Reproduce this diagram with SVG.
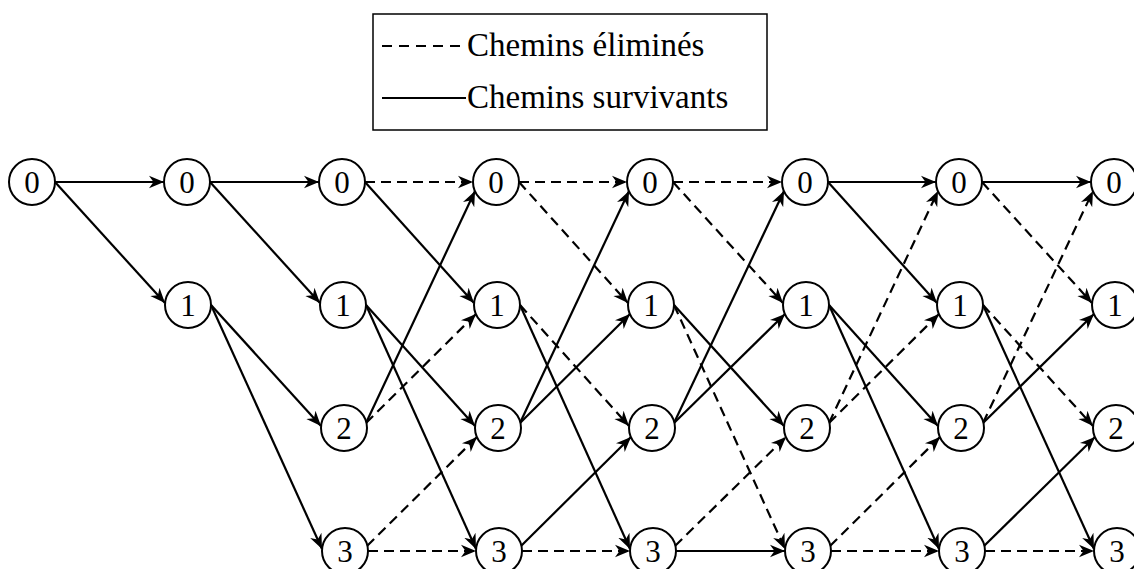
<svg xmlns="http://www.w3.org/2000/svg" width="1134" height="569" viewBox="0 0 1134 569">
  <style>
    .node circle { fill: #fff; stroke: #000; stroke-width: 2; }
    .node text { font-family: "Liberation Serif", "Times New Roman", serif; font-size: 31px; text-anchor: middle; fill: #000; }
    .edge { fill: none; stroke: #000; stroke-width: 2.2; marker-end: url(#arr); }
    .dash { stroke-dasharray: 10 6; }
    .legend-text { font-family: "Liberation Serif", "Times New Roman", serif; font-size: 33px; fill: #000; }
  </style>
  <defs>
    <marker id="arr" viewBox="0 0 16 14" markerWidth="16" markerHeight="14" refX="15" refY="7" orient="auto" markerUnits="userSpaceOnUse">
      <path d="M0,0.8 L15,7 L0,13.2 L4.5,7 Z" fill="#000"/>
    </marker>
  </defs>
  <rect width="1134" height="569" fill="#fff"/>

  <!-- legend -->
  <g id="legend">
    <rect x="373" y="14" width="394" height="116" fill="#fff" stroke="#000" stroke-width="1.5"/>
    <line x1="382" y1="46" x2="466" y2="46" stroke="#000" stroke-width="2" stroke-dasharray="10 7"/>
    <text class="legend-text" x="467" y="56">Chemins éliminés</text>
    <line x1="382" y1="98" x2="466" y2="98" stroke="#000" stroke-width="2"/>
    <text class="legend-text" x="467" y="108">Chemins survivants</text>
  </g>

  <!-- trellis transitions -->
  <g id="connectors">
    <!-- stage 0 -> 1 -->
    <path class="edge" d="M55 182 L164 182"/>
    <path class="edge" d="M55 182 L165 303"/>
    <!-- stage 1 -> 2 -->
    <path class="edge" d="M210 182 L319 182"/>
    <path class="edge" d="M210 182 L320 303"/>
    <path class="edge" d="M211 305 L321 426"/>
    <path class="edge" d="M211 305 L322 549"/>
    <!-- stage 2 -> 3 -->
    <path class="edge dash" d="M365 182 L473 182"/>
    <path class="edge" d="M365 182 L474 303"/>
    <path class="edge" d="M366 305 L475 426"/>
    <path class="edge" d="M366 305 L476 549"/>
    <path class="edge" d="M366 423 L475 191"/>
    <path class="edge dash" d="M366 423 L476 314"/>
    <path class="edge dash" d="M367 546 L477 437"/>
    <path class="edge dash" d="M368 551 L476 551"/>
    <!-- stage 3 -> 4 -->
    <path class="edge dash" d="M519 182 L627 182"/>
    <path class="edge dash" d="M519 182 L628 303"/>
    <path class="edge dash" d="M520 305 L629 426"/>
    <path class="edge" d="M520 305 L630 549"/>
    <path class="edge" d="M520 423 L629 191"/>
    <path class="edge" d="M520 423 L630 314"/>
    <path class="edge" d="M521 546 L631 437"/>
    <path class="edge dash" d="M522 551 L630 551"/>
    <!-- stage 4 -> 5 -->
    <path class="edge dash" d="M673 182 L782 182"/>
    <path class="edge dash" d="M673 182 L783 303"/>
    <path class="edge" d="M674 305 L784 426"/>
    <path class="edge dash" d="M674 305 L785 549"/>
    <path class="edge" d="M674 423 L784 191"/>
    <path class="edge" d="M674 423 L785 314"/>
    <path class="edge dash" d="M675 546 L786 437"/>
    <path class="edge" d="M676 551 L785 551"/>
    <!-- stage 5 -> 6 -->
    <path class="edge" d="M828 182 L936 182"/>
    <path class="edge" d="M828 182 L937 303"/>
    <path class="edge" d="M829 305 L938 426"/>
    <path class="edge" d="M829 305 L939 549"/>
    <path class="edge dash" d="M829 423 L938 191"/>
    <path class="edge dash" d="M829 423 L939 314"/>
    <path class="edge dash" d="M830 546 L940 437"/>
    <path class="edge dash" d="M831 551 L939 551"/>
    <!-- stage 6 -> 7 -->
    <path class="edge" d="M982 182 L1091 182"/>
    <path class="edge dash" d="M982 182 L1092 303"/>
    <path class="edge dash" d="M983 305 L1093 426"/>
    <path class="edge" d="M983 305 L1094 549"/>
    <path class="edge dash" d="M983 423 L1093 191"/>
    <path class="edge" d="M983 423 L1094 314"/>
    <path class="edge" d="M984 546 L1095 437"/>
    <path class="edge dash" d="M985 551 L1094 551"/>
  </g>

  <!-- states -->
  <g id="n0-0" class="node"><circle cx="32" cy="182" r="23"/><text x="32" y="193">0</text></g>

  <g id="n1-0" class="node"><circle cx="187" cy="182" r="23"/><text x="187" y="193">0</text></g>
  <g id="n1-1" class="node"><circle cx="188" cy="305" r="23"/><text x="188" y="316">1</text></g>

  <g id="n2-0" class="node"><circle cx="342" cy="182" r="23"/><text x="342" y="193">0</text></g>
  <g id="n2-1" class="node"><circle cx="343" cy="305" r="23"/><text x="343" y="316">1</text></g>
  <g id="n2-2" class="node"><circle cx="344" cy="428" r="23"/><text x="344" y="439">2</text></g>
  <g id="n2-3" class="node"><circle cx="345" cy="551" r="23"/><text x="345" y="562">3</text></g>

  <g id="n3-0" class="node"><circle cx="496" cy="182" r="23"/><text x="496" y="193">0</text></g>
  <g id="n3-1" class="node"><circle cx="497" cy="305" r="23"/><text x="497" y="316">1</text></g>
  <g id="n3-2" class="node"><circle cx="498" cy="428" r="23"/><text x="498" y="439">2</text></g>
  <g id="n3-3" class="node"><circle cx="499" cy="551" r="23"/><text x="499" y="562">3</text></g>

  <g id="n4-0" class="node"><circle cx="650" cy="182" r="23"/><text x="650" y="193">0</text></g>
  <g id="n4-1" class="node"><circle cx="651" cy="305" r="23"/><text x="651" y="316">1</text></g>
  <g id="n4-2" class="node"><circle cx="652" cy="428" r="23"/><text x="652" y="439">2</text></g>
  <g id="n4-3" class="node"><circle cx="653" cy="551" r="23"/><text x="653" y="562">3</text></g>

  <g id="n5-0" class="node"><circle cx="805" cy="182" r="23"/><text x="805" y="193">0</text></g>
  <g id="n5-1" class="node"><circle cx="806" cy="305" r="23"/><text x="806" y="316">1</text></g>
  <g id="n5-2" class="node"><circle cx="807" cy="428" r="23"/><text x="807" y="439">2</text></g>
  <g id="n5-3" class="node"><circle cx="808" cy="551" r="23"/><text x="808" y="562">3</text></g>

  <g id="n6-0" class="node"><circle cx="959" cy="182" r="23"/><text x="959" y="193">0</text></g>
  <g id="n6-1" class="node"><circle cx="960" cy="305" r="23"/><text x="960" y="316">1</text></g>
  <g id="n6-2" class="node"><circle cx="961" cy="428" r="23"/><text x="961" y="439">2</text></g>
  <g id="n6-3" class="node"><circle cx="962" cy="551" r="23"/><text x="962" y="562">3</text></g>

  <g id="n7-0" class="node"><circle cx="1114" cy="182" r="23"/><text x="1114" y="193">0</text></g>
  <g id="n7-1" class="node"><circle cx="1115" cy="305" r="23"/><text x="1115" y="316">1</text></g>
  <g id="n7-2" class="node"><circle cx="1116" cy="428" r="23"/><text x="1116" y="439">2</text></g>
  <g id="n7-3" class="node"><circle cx="1117" cy="551" r="23"/><text x="1117" y="562">3</text></g>
</svg>
